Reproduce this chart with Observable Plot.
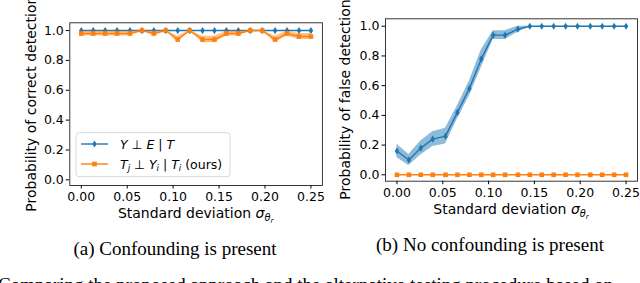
<!DOCTYPE html>
<html><head><meta charset="utf-8">
<script src="https://cdn.jsdelivr.net/npm/d3@7"></script>
<script src="https://cdn.jsdelivr.net/npm/@observablehq/plot@0.6"></script>
<style>
html,body{margin:0;padding:0;background:#fff;}
#wrap{position:relative;width:640px;height:283px;overflow:hidden;background:#fff;}
#left{position:absolute;left:0;top:0;}
#right{position:absolute;left:330px;top:0;}
#overlay{position:absolute;left:0;top:0;pointer-events:none;}
</style></head><body>
<div id="wrap"><div id="left"></div><div id="right"></div><svg id="overlay" width="640" height="283"></svg></div>
<script>
// ---- data ----
const sigma = [0.000, 0.013, 0.026, 0.039, 0.053, 0.066, 0.079, 0.092, 0.105, 0.118,
               0.132, 0.145, 0.158, 0.171, 0.184, 0.197, 0.211, 0.224, 0.237, 0.250];
const xTicks = [0.00, 0.05, 0.10, 0.15, 0.20, 0.25];
const yTicks = [0.0, 0.2, 0.4, 0.6, 0.8, 1.0];

// (a) Confounding is present
const leftBlue = [1,1,1,1,1,1,1,1,1,1,1,1,1,1,1,1,1,1,1,1];
const leftOrange = [0.98,0.98,0.98,0.98,0.98,1.00,0.98,1.00,0.94,1.00,
                    0.94,0.94,0.98,0.98,1.00,1.00,0.94,0.98,0.96,0.96];
const leftOrangeErr = [0.016,0.016,0.016,0.016,0.016,0,0.016,0,0.022,0,
                       0.022,0.022,0.016,0.016,0,0,0.022,0.016,0.02,0.02];

// (b) No confounding is present
const rightBlue = [0.16,0.10,0.18,0.24,0.26,0.42,0.58,0.78,0.94,0.94,
                   0.98,1,1,1,1,1,1,1,1,1];
const rightBlueErr = [0.045,0.037,0.047,0.05,0.053,0.045,0.05,0.06,0.03,0.03,
                      0.02,0,0,0,0,0,0,0,0,0];
const rightOrange = [0,0,0,0,0,0,0,0,0,0,0,0,0,0,0,0,0,0,0,0];

const yLabels = ["Probability of correct detection", "Probability of false detection"];
const captions = ["(a) Confounding is present", "(b) No confounding is present"];

// ---- styling ----
const BLUE = "#1f77b4", ORANGE = "#ff7f0e";
const FONT = "DejaVu Sans";
const LABEL_SIZE = 14;
const thinDiamond = {draw(ctx, size){ const r = Math.sqrt(size/Math.PI); const w = r*0.62;
  ctx.moveTo(0,-r); ctx.lineTo(w,0); ctx.lineTo(0,r); ctx.lineTo(-w,0); ctx.closePath(); }};
const squareSym = {draw(ctx, size){ const r = Math.sqrt(size/Math.PI); ctx.rect(-r,-r,2*r,2*r); }};

function richText(sel, parts, size) {
  let shift = 0;
  parts.forEach(p => {
    const ts = sel.append("tspan").text(p.t);
    const lvl = p.sub || 0;
    const fs = lvl === 0 ? size : lvl === 1 ? size*0.7 : size*0.5;
    const target = lvl === 0 ? 0 : lvl === 1 ? size*0.22 : size*0.38;
    ts.attr("font-size", fs).attr("dy", target - shift);
    shift = target;
    if (p.i) ts.attr("font-style", "italic");
  });
}

function panel(o) {
  const rows = sigma.map((s, i) => ({s, b: o.blue[i], be: o.blueErr[i], or: o.orange[i], oe: o.orangeErr[i]}));
  const svg = Plot.plot({
    width: o.width, height: 225,
    marginLeft: o.ml, marginRight: o.mr, marginTop: o.mt, marginBottom: 225 - o.fb,
    style: {fontFamily: FONT, fontSize: "12.5px", color: "#000", background: "transparent", overflow: "visible"},
    x: {domain: [-0.0125, 0.2625], ticks: xTicks, tickFormat: d3.format(".2f"), tickSize: 3.5, tickPadding: 3, label: null},
    y: {domain: o.ydom, ticks: yTicks, tickFormat: d3.format(".1f"), tickSize: 3.5, tickPadding: 2.5, label: null},
    marks: [
      Plot.areaY(rows, {x: "s", y1: d => d.b - d.be, y2: d => d.b + d.be, fill: BLUE, fillOpacity: 0.5}),
      Plot.lineY(rows, {x: "s", y: "b", stroke: BLUE, strokeWidth: 1.4}),
      Plot.dot(rows, {x: "s", y: "b", fill: BLUE, symbol: thinDiamond, r: 3.6}),
      Plot.areaY(rows, {x: "s", y1: d => d.or - d.oe, y2: d => d.or + d.oe, fill: ORANGE, fillOpacity: 0.5}),
      Plot.lineY(rows, {x: "s", y: "or", stroke: ORANGE, strokeWidth: 1.4}),
      Plot.dot(rows, {x: "s", y: "or", fill: ORANGE, symbol: squareSym, r: 2.3}),
      Plot.frame({stroke: "#222", strokeWidth: 0.9})
    ]
  });
  const g = d3.select(svg);
  g.append("text").attr("transform", `translate(${o.ylx},${(o.mt + o.fb)/2}) rotate(-90)`)
    .attr("text-anchor", "middle").attr("font-family", FONT).attr("font-size", LABEL_SIZE).attr("fill", "#000")
    .text(o.ylabel);
  const xl = g.append("text").attr("x", (o.ml + o.width - o.mr)/2).attr("y", o.xly)
    .attr("text-anchor", "middle").attr("font-family", FONT).attr("fill", "#000");
  richText(xl, [{t: "Standard deviation "}, {t: "σ", i: true}, {t: "θ", i: true, sub: 1}, {t: "r", i: true, sub: 2}], LABEL_SIZE);
  return svg;
}

const leftSvg = panel({width: 330, ml: 69.3, mr: 8.1, mt: 22.3, fb: 185, ydom: [-0.038, 1.052],
  blue: leftBlue, blueErr: leftBlue.map(() => 0), orange: leftOrange, orangeErr: leftOrangeErr,
  ylabel: yLabels[0], ylx: 35.5, xly: 217.5});
const rightSvg = panel({width: 310, ml: 55, mr: 3, mt: 18.3, fb: 180.7, ydom: [-0.043, 1.05],
  blue: rightBlue, blueErr: rightBlueErr, orange: rightOrange, orangeErr: rightOrange,
  ylabel: yLabels[1], ylx: 19.5, xly: 213.5});
document.getElementById("left").appendChild(leftSvg);
document.getElementById("right").appendChild(rightSvg);

// legend (left panel)
{
  const g = d3.select(leftSvg).append("g").attr("text-anchor", "start");
  g.append("rect").attr("x", 76).attr("y", 132.7).attr("width", 154).attr("height", 44)
    .attr("rx", 3).attr("fill", "#fff").attr("fill-opacity", 0.8).attr("stroke", "#d5d5d5").attr("stroke-width", 0.9);
  const entries = [
    {y: 144, color: BLUE, sym: d3.symbol(thinDiamond, Math.PI*3.6*3.6),
     parts: [{t: "Y", i: true}, {t: " ⊥ "}, {t: "E", i: true}, {t: " | "}, {t: "T", i: true}]},
    {y: 164, color: ORANGE, sym: d3.symbol(squareSym, Math.PI*2.3*2.3),
     parts: [{t: "T", i: true}, {t: "j", i: true, sub: 1}, {t: " ⊥ "}, {t: "Y", i: true}, {t: "i", i: true, sub: 1},
             {t: " | "}, {t: "T", i: true}, {t: "i", i: true, sub: 1}, {t: " (ours)"}]}
  ];
  entries.forEach(e => {
    g.append("line").attr("x1", 81).attr("x2", 108).attr("y1", e.y).attr("y2", e.y)
      .attr("stroke", e.color).attr("stroke-width", 1.4);
    g.append("path").attr("d", e.sym()).attr("transform", `translate(94.5,${e.y})`).attr("fill", e.color);
    const t = g.append("text").attr("x", 120).attr("y", e.y + 4.5).attr("text-anchor", "start")
      .attr("font-family", FONT).attr("fill", "#000");
    richText(t, e.parts, 12.5);
  });
}

// captions
{
  const ov = d3.select("#overlay");
  const serif = "Liberation Serif";
  ov.append("text").attr("x", 175).attr("y", 255).attr("text-anchor", "middle")
    .attr("font-family", serif).attr("font-size", 19).attr("fill", "#000").text(captions[0]);
  ov.append("text").attr("x", 490).attr("y", 251).attr("text-anchor", "middle")
    .attr("font-family", serif).attr("font-size", 19).attr("fill", "#000").text(captions[1]);
  ov.append("text").attr("x", -2).attr("y", 290.5).attr("text-anchor", "start")
    .attr("font-family", serif).attr("font-size", 19).attr("fill", "#000")
    .text("Comparing the proposed approach and the alternative testing procedure based on");
}
</script>
</body></html>
